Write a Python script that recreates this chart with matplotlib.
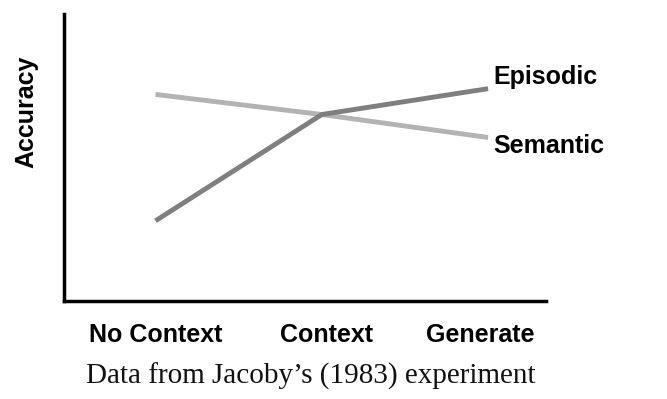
import matplotlib
matplotlib.use('Agg')
import matplotlib.pyplot as plt

# conditions and (arbitrary-scale) accuracy
conditions = ['No Context', 'Context', 'Generate']
episodic = [0.28, 0.65, 0.74]
semantic = [0.72, 0.65, 0.57]

plt.rcParams['font.family'] = ['Liberation Sans', 'DejaVu Sans']

fig = plt.figure(figsize=(6.67, 3.99), dpi=100)
ax = fig.add_axes([0.096, 0.245, 0.723, 0.72])

xs = range(len(conditions))
ax.plot(xs, semantic, color='#b3b3b3', lw=3.5, solid_capstyle='butt', zorder=2)
ax.plot(xs, episodic, color='#7f7f7f', lw=3.5, solid_capstyle='butt', zorder=3)

ax.set_xlim(-0.55, 2.35)
ax.set_ylim(0, 1)

# line labels
ax.text(2.03, episodic[-1] + 0.04, 'Episodic', fontsize=18, fontweight='bold',
        va='center', ha='left', clip_on=False)
ax.text(2.03, semantic[-1] - 0.03, 'Semantic', fontsize=18, fontweight='bold',
        va='center', ha='left', clip_on=False)

# labels sit a little off the data points in the original
ax.set_xticks([0.0, 1.03, 1.95])
ax.set_xticklabels(conditions, fontsize=18, fontweight='bold')
ax.tick_params(axis='x', length=0, pad=16)
ax.set_yticks([])

for s in ['top', 'right']:
    ax.spines[s].set_visible(False)
for s in ['left', 'bottom']:
    ax.spines[s].set_linewidth(2.5)

fig.text(0.04, 0.72, 'Accuracy', rotation=90, fontsize=18, fontweight='bold',
         ha='center', va='center')

fig.text(0.466, 0.058, 'Data from Jacoby\u2019s (1983) experiment',
         family=['Liberation Serif', 'DejaVu Serif'], fontsize=21,
         ha='center', va='center', color='#111111')

fig.savefig('out.png', dpi=100)
